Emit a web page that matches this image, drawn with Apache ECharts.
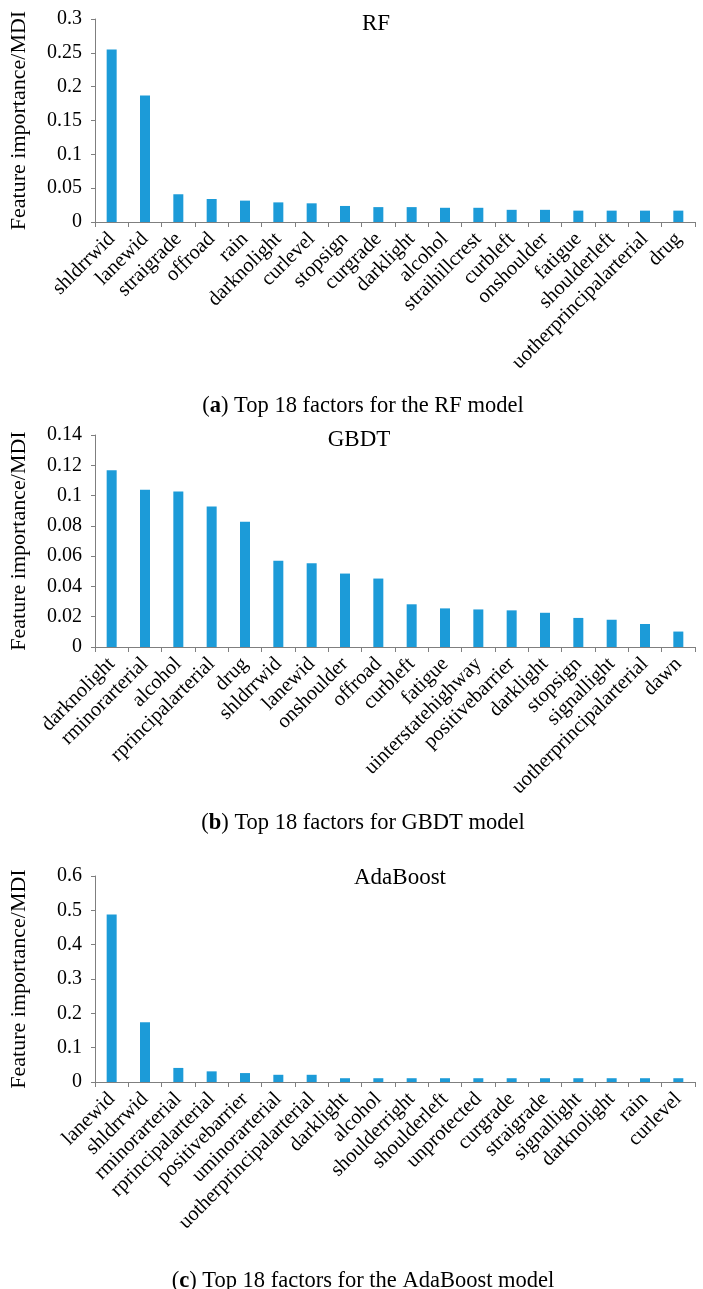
<!DOCTYPE html>
<html>
<head>
<meta charset="utf-8">
<script src="https://cdn.jsdelivr.net/npm/echarts@6/dist/echarts.min.js"></script>
<style>
html,body{margin:0;padding:0;background:#fff;}
#main{width:703px;height:1289px;}
</style>
</head>
<body>
<div id="main"></div>
<script>
// ---- Data ----
const rfCategories = ['shldrrwid','lanewid','straigrade','offroad','rain','darknolight','curlevel','stopsign','curgrade','darklight','alcohol','straihillcrest','curbleft','onshoulder','fatigue','shoulderleft','uotherprincipalarterial','drug'];
const rfValues = [0.255,0.187,0.041,0.034,0.0316,0.029,0.0276,0.0237,0.022,0.022,0.021,0.021,0.018,0.018,0.0168,0.0168,0.0168,0.0168];

const gbdtCategories = ['darknolight','rminorarterial','alcohol','rprincipalarterial','drug','shldrrwid','lanewid','onshoulder','offroad','curbleft','fatigue','uinterstatehighway','positivebarrier','darklight','stopsign','signallight','uotherprincipalarterial','dawn'];
const gbdtValues = [0.1168,0.1038,0.1027,0.0928,0.0827,0.0569,0.0553,0.0485,0.0452,0.0282,0.0255,0.0248,0.0242,0.0226,0.0192,0.0180,0.0152,0.0102];

const adaCategories = ['lanewid','shldrrwid','rminorarterial','rprincipalarterial','positivebarrier','uminorarterial','uotherprincipalarterial','darklight','alcohol','shoulderright','shoulderleft','unprotected','curgrade','straigrade','signallight','darknolight','rain','curlevel'];
const adaValues = [0.488,0.174,0.041,0.031,0.026,0.021,0.021,0.011,0.011,0.011,0.011,0.011,0.011,0.011,0.011,0.011,0.011,0.011];

const panelTitles = ['RF','GBDT','AdaBoost'];
const captionLetters = ['a','b','c'];
const captionTexts = [' Top 18 factors for the RF model',' Top 18 factors for GBDT model',' Top 18 factors for the AdaBoost model'];
const yMax = [0.3,0.14,0.6];
const yInterval = [0.05,0.02,0.1];
const yAxisName = 'Feature importance/MDI';

// ---- Layout ----
const SERIF = '"Liberation Serif","Times New Roman",serif';
const grids = [
  {left:91, top:19, width:604, height:203},
  {left:91, top:435, width:604, height:212},
  {left:91, top:876, width:604, height:206}
];
const titlePos = [{x:371,y:7},{x:354,y:423},{x:395,y:861}];
const captionPos = [{x:358,y:390},{x:358,y:807},{x:358,y:1265}];
const cats = [rfCategories, gbdtCategories, adaCategories];
const vals = [rfValues, gbdtValues, adaValues];

const axisColor = '#7f7f7f';
const barColor = '#1c9bd8';

const titles = [];
for (let i=0;i<3;i++){
  titles.push({
    text: panelTitles[i], left: titlePos[i].x, top: titlePos[i].y, textAlign:'center',
    textStyle:{fontFamily:SERIF, fontSize:23, fontWeight:'normal', color:'#000'}
  });
  titles.push({
    text: '({b|' + captionLetters[i] + '})' + captionTexts[i],
    left: captionPos[i].x, top: captionPos[i].y, textAlign:'center',
    textStyle:{fontFamily:SERIF, fontSize:22.5, fontWeight:'normal', color:'#000',
      rich:{b:{fontFamily:SERIF, fontSize:22.5, fontWeight:'bold', color:'#000'}}}
  });
}

const xAxes = [], yAxes = [], series = [];
for (let i=0;i<3;i++){
  xAxes.push({
    type:'category', gridIndex:i, data:cats[i],
    axisLine:{lineStyle:{color:axisColor,width:1}},
    axisTick:{show:true, alignWithLabel:false, length:5, lineStyle:{color:axisColor}},
    axisLabel:{rotate:45, interval:0, margin:14, fontFamily:SERIF, fontSize:20.5, color:'#000'}
  });
  yAxes.push({
    type:'value', gridIndex:i, min:0, max:yMax[i], interval:yInterval[i],
    name: yAxisName, nameLocation:'middle', nameGap:65,
    nameTextStyle:{fontFamily:SERIF, fontSize:22, color:'#000'},
    splitLine:{show:false},
    axisLine:{show:true, lineStyle:{color:axisColor,width:1}},
    axisTick:{show:true, length:4, lineStyle:{color:axisColor}},
    axisLabel:{margin:13, fontFamily:SERIF, fontSize:20, color:'#000'}
  });
  series.push({
    type:'bar', xAxisIndex:i, yAxisIndex:i, data:vals[i],
    barWidth:'30%', itemStyle:{color:barColor}, silent:true
  });
}

const chart = echarts.init(document.getElementById('main'), null, {renderer:'canvas'});
chart.setOption({
  animation:false,
  backgroundColor:'#fff',
  title: titles,
  grid: grids,
  xAxis: xAxes,
  yAxis: yAxes,
  series: series
});
</script>
</body>
</html>
